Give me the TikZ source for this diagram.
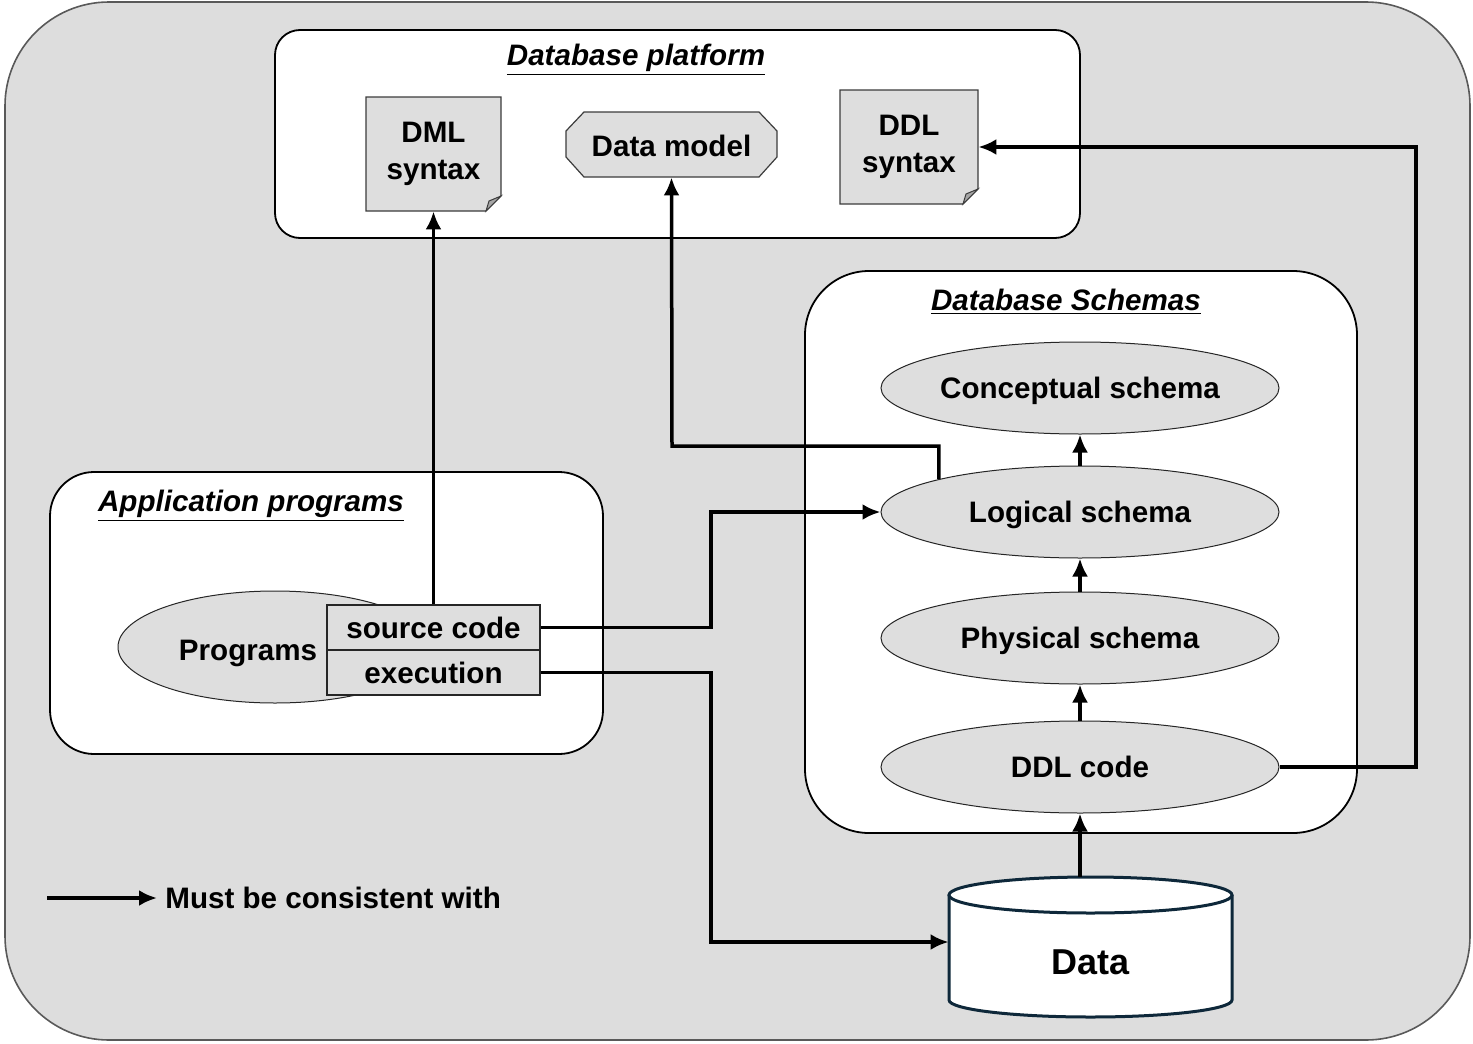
\documentclass[tikz,border=0pt]{standalone}
\usepackage{fontspec}
\setmainfont{Liberation Sans}
\usetikzlibrary{shapes.geometric,arrows.meta}
\definecolor{panelgray}{RGB}{221,221,221}
\definecolor{shapegray}{RGB}{222,222,222}
\definecolor{edgegray}{RGB}{60,60,60}
\definecolor{drumblue}{RGB}{14,40,58}
% dog-eared sheet: left, top, right, bottom
\newcommand\notesheet[4]{%
  \filldraw[fill=shapegray, draw=edgegray, line width=0.6pt]
    (#1,#2) -- (#3,#2) -- (#3,#4-15) -- (#3-15,#4) -- (#1,#4) -- cycle;
  \filldraw[fill=black!35, draw=edgegray, line width=0.5pt]
    (#3-15,#4) -- (#3,#4-15) -- (#3-12,#4-10) -- cycle;
}
\begin{document}
\begin{tikzpicture}[x=0.5pt,y=-0.5pt,
  every node/.style={font=\fontsize{14.8}{18.5}\selectfont\bfseries, inner sep=0pt},
  container/.style={draw=black, line width=0.9pt, fill=white, rounded corners=#1},
  title/.style={font=\fontsize{14.8}{18.5}\selectfont\bfseries\itshape},
  capcenter/.style={text height=10.6pt, text depth=0pt},
  oval/.style={ellipse, draw=black!85, line width=0.5pt, fill=shapegray, capcenter,
    minimum width=199pt, minimum height=46pt},
  cell/.style={rectangle, draw=black!85, line width=0.6pt, fill=shapegray, capcenter,
    minimum width=106.5pt, minimum height=22.5pt},
  conn/.style={line width=1.75pt, -{Latex[length=9pt,width=8pt]}},
]
\useasboundingbox (0,0) rectangle (1473,1044);

% outer panel
\filldraw[fill=panelgray, draw=black!65, line width=0.8pt, rounded corners=52pt]
  (5,2) rectangle (1470,1040);

% containers
\node[container=12.5pt, minimum width=402.5pt, minimum height=104pt] (platform) at (677.5,134) {};
\node[container=32pt, minimum width=276pt, minimum height=281pt] (schemas) at (1081,552) {};
\node[container=22pt, minimum width=276.5pt, minimum height=141pt] (apps) at (326.5,613) {};

\node[title] (platformtitle) at (636,60) {\underline{Database platform}};
\node[title] (schemastitle) at (1066,302) {\underline{Database Schemas}};
\node[title] (appstitle) at (251,506) {\underline{Application programs}};

% database platform content
\notesheet{366}{97}{501}{211}
\node[minimum width=67.5pt, minimum height=57pt, align=center] (dml) at (433.5,154) {DML\\syntax};
\notesheet{840}{90}{978}{204}
\node[minimum width=69pt, minimum height=57pt, align=center] (ddls) at (909,147) {DDL\\syntax};
\filldraw[fill=shapegray, draw=edgegray, line width=0.6pt]
  (566,131) -- (584,112) -- (759,112) -- (777,131) -- (777,157) -- (759,177)
  -- (584,177) -- (566,157) -- cycle;
\node[minimum width=105.5pt, minimum height=32.5pt, text height=12pt, text depth=0pt]
  (dmodel) at (671.5,144.5) {Data model};

% schemas
\node[oval] (conceptual) at (1080,388) {Conceptual schema};
\node[oval] (logical) at (1080,512) {Logical schema};
\node[oval] (physical) at (1080,638) {Physical schema};
\node[oval] (ddlcode) at (1080,767) {DDL code};

% application programs
\node[ellipse, draw=black!85, line width=0.5pt, fill=shapegray,
  text height=13.6pt, text depth=0pt,
  minimum width=157pt, minimum height=56pt] (progs) at (275,647) {Programs\hspace*{27pt}};
\node[cell] (src) at (433.5,627.5) {source code};
\node[cell] (exe) at (433.5,672.5) {execution};

% data store
\filldraw[fill=white, draw=drumblue, line width=1.5pt]
  (949,895) -- (949,1000) arc[start angle=180, end angle=360, x radius=70.75pt, y radius=8.5pt]
  -- (1232,895);
\filldraw[fill=white, draw=drumblue, line width=1.5pt]
  (1090.5,895) ellipse[x radius=70.75pt, y radius=9pt];
\node[minimum width=141.5pt, minimum height=70pt, font=\fontsize{18}{20}\selectfont\bfseries,
  text height=27.9pt, text depth=0pt] (data) at (1090.5,947) {Data};

% connectors
\coordinate (j2) at (672,446);
\coordinate (j3) at (711,512);
\coordinate (j4) at (711,942);
\coordinate (j6) at (1416,147);

\draw[conn] (src.north) -- (dml.south);
\draw[conn] (logical.north west) |- (j2) -- (dmodel.south);
\draw[conn] (src.east) -| (j3) -- (logical.west);
\draw[conn] (exe.east) -| (j4) -- (data.west |- j4);
\draw[conn] (ddlcode.east) -| (j6) -- (ddls.east);
\draw[conn] (ddlcode.south |- data.north) -- (ddlcode.south);
\draw[conn] (ddlcode.north) -- (physical.south);
\draw[conn] (physical.north) -- (logical.south);
\draw[conn] (logical.north) -- (conceptual.south);

% legend
\node[anchor=west, inner xsep=4pt] (legend) at (157,898) {Must be consistent with};
\coordinate (lg) at (47,898);
\draw[conn] (lg) -- (legend.west);
\end{tikzpicture}
\end{document}
